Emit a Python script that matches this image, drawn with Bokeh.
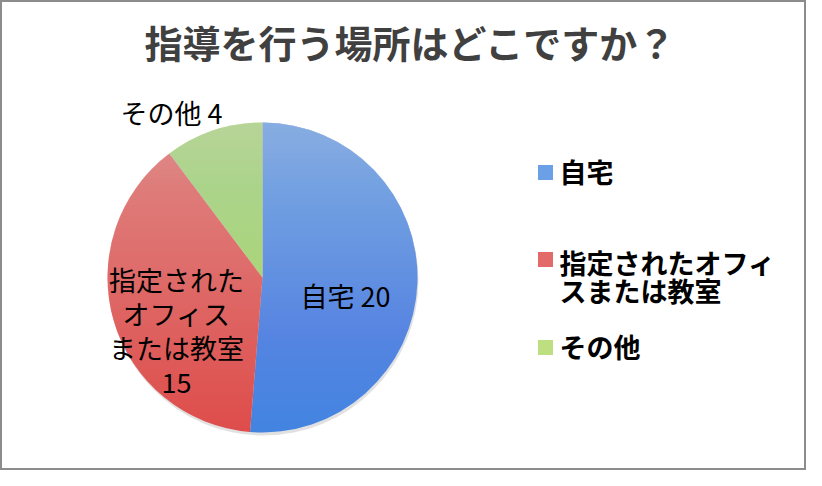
import math
from bokeh.plotting import figure
from bokeh.models import Range1d, ColumnDataSource
from bokeh.core.properties import value
from bokeh.embed import file_html
from bokeh.resources import INLINE

# ---- data ----
title_text = "指導を行う場所はどこですか？"
categories = ["自宅", "指定されたオフィスまたは教室", "その他"]
values = [20, 15, 4]
data_label_names = ["自宅", "指定された\nオフィス\nまたは教室", "その他"]
legend_labels = ["自宅", "指定されたオフィ\nスまたは教室", "その他"]

# ---- style ----
base_colors = ["#4284e1", "#de4c4a", "#aad45b"]
legend_colors = ["#6b9fe6", "#e26a68", "#bddf7f"]
FONT = "Noto Sans CJK JP"

W, H = 806, 470
p = figure(width=W, height=H, x_range=Range1d(0, W), y_range=Range1d(0, H),
           output_backend="svg", toolbar_location=None, min_border=0)
p.axis.visible = False
p.grid.visible = False
p.outline_line_color = "#8c8c8c"
p.outline_line_width = 3
p.background_fill_color = "white"
p.border_fill_color = "white"


def Y(y):
    return H - y


cx, cy, r = 262, Y(277), 155
total = sum(values)
starts, ends = [], []
a = math.pi / 2
for v in values:
    ang = v / total * 2 * math.pi
    starts.append(a)
    ends.append(a - ang)
    a -= ang

# soft shadow
p.circle(x=[cx + 1], y=[cy - 3], radius=r, fill_color="#bdbdbd", fill_alpha=0.45, line_color=None)

src = ColumnDataSource(dict(start=starts, end=ends, color=base_colors, cat=categories, val=values))
p.wedge(x=cx, y=cy, radius=r, start_angle="start", end_angle="end", direction="clock",
        fill_color="color", line_color=None, source=src)

# vertical light gradient overlay (white, stronger at top)
N = 60
bottom, top = cy - r, cy + r
ys, alphas = [], []
prev_w = 0.0
for j in range(1, N + 1):
    w = 0.5 * j / N
    alphas.append(1 - (1 - w) / (1 - prev_w))
    prev_w = w
    ys.append(bottom + (j - 1) / N * 2 * r)
p.quad(left=cx - r - 2, right=cx + r + 2, bottom=ys, top=top + 2, fill_color="white",
       fill_alpha=alphas, line_color=None)

# data labels
seps = [" ", "\n", " "]
dl_text = [f"{n}{s}{v}" for n, s, v in zip(data_label_names, seps, values)]
dl_x = [345, 176, 171]
dl_y = [Y(295), Y(330), Y(112)]
p.text(x=dl_x, y=dl_y, text=dl_text, text_font=value(FONT), text_font_size="27px",
       text_color="#000000", text_align="center", text_baseline="middle", text_line_height=0.875)

# title
p.text(x=[410], y=[Y(41)], text=[title_text], text_font=value(FONT), text_font_size="38px",
       text_font_style="bold", text_color="#404040", text_align="center", text_baseline="middle")

# legend
p.scatter(x=[545] * 3, y=[Y(172), Y(259), Y(347)], marker="square", size=15,
          fill_color=legend_colors, line_color=None)
p.text(x=[559] * 3, y=[Y(171), Y(276), Y(346)], text=legend_labels, text_font=value(FONT),
       text_font_size="27px", text_font_style="bold", text_color="#000000",
       text_align="left", text_baseline="middle", text_line_height=0.72)

open("out.html", "w").write(file_html(p, INLINE))
